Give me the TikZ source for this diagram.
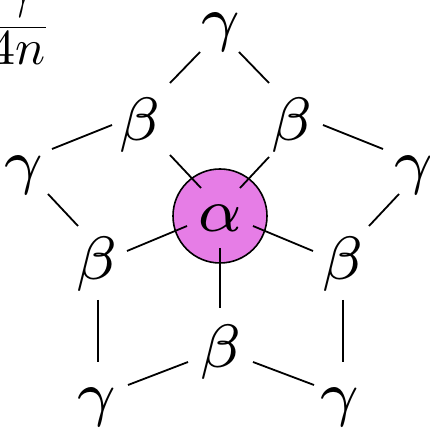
\documentclass[tikz,border=0pt]{standalone}
\definecolor{alphapink}{RGB}{230,125,230}
\newcommand{\scaledmath}[1]{\scalebox{8.75}{$\scriptstyle#1$}}
\newcommand{\fracmath}[1]{\scalebox{5}{$#1$}}
\tikzset{
  lbl/.style={inner sep=11pt, anchor=base, text height=44pt, text depth=12pt},
  albl/.style={inner sep=11pt, anchor=base},
  edge/.style={line width=1.8pt},
}
\begin{document}
\begin{tikzpicture}[x=1pt,y=1pt]
\useasboundingbox (0,0) rectangle (430,431);
\clip (0,0) rectangle (430,431);
\fill[alphapink] (220,215) circle (47);
\draw[line width=1.6pt] (220,215) circle (47);
\node[albl] (a) at (220,199) {\scaledmath{\alpha}};
\node[lbl] (gT) at (221,391.4) {\scaledmath{\gamma}};
\node[lbl] (bUL) at (140,290.4) {\scaledmath{\beta}};
\node[lbl] (bUR) at (291.5,290.4) {\scaledmath{\beta}};
\node[lbl] (gL) at (23.5,248.4) {\scaledmath{\gamma}};
\node[lbl] (gR) at (413.5,248.4) {\scaledmath{\gamma}};
\node[lbl] (bL) at (96.5,151.4) {\scaledmath{\beta}};
\node[lbl] (bR) at (342.5,151.4) {\scaledmath{\beta}};
\node[lbl] (bB) at (220.5,63.4) {\scaledmath{\beta}};
\node[lbl] (gBL) at (96.5,16.4) {\scaledmath{\gamma}};
\node[lbl] (gBR) at (340,16.4) {\scaledmath{\gamma}};
\node[inner sep=0pt, anchor=base east] (den) at (46,366) {\fracmath{4n}};
\node[inner sep=0pt, anchor=base] (num) at (19,423.7) {\fracmath{\gamma}};
\draw[line width=1.7pt] (den.west |- 0,403.5) -- (den.east |- 0,403.5);
% outer edges
\draw[edge] ([shift={(-21,-12.4)}]gT.base) -- ([shift={(30,57.6)}]bUL.base);
\draw[edge] ([shift={(18,-12.4)}]gT.base) -- ([shift={(-22.5,57.6)}]bUR.base);
\draw[edge] ([shift={(-28,15.6)}]bUL.base) -- ([shift={(28.5,33.6)}]gL.base);
\draw[edge] ([shift={(31.5,15.6)}]bUR.base) -- ([shift={(-30.5,33.6)}]gR.base);
\draw[edge] ([shift={(24.5,-11.4)}]gL.base) -- ([shift={(-18.5,53.6)}]bL.base);
\draw[edge] ([shift={(-14.5,-11.4)}]gR.base) -- ([shift={(26.5,53.6)}]bR.base);
\draw[edge] ([shift={(1.5,-20.4)}]bL.base) -- ([shift={(1.5,52.6)}]gBL.base);
\draw[edge] ([shift={(0.5,-20.4)}]bR.base) -- ([shift={(3,52.6)}]gBR.base);
\draw[edge] ([shift={(31.5,29.6)}]gBL.base) -- ([shift={(-32.5,5.6)}]bB.base);
\draw[edge] ([shift={(-26,29.6)}]gBR.base) -- ([shift={(32.5,5.6)}]bB.base);
% spokes
\draw[edge] ([shift={(-19,44)}]a.base) -- ([shift={(30,-14.4)}]bUL.base);
\draw[edge] ([shift={(20,44)}]a.base) -- ([shift={(-22.5,-16.4)}]bUR.base);
\draw[edge] ([shift={(-33,6)}]a.base) -- ([shift={(30.5,28.6)}]bL.base);
\draw[edge] ([shift={(33,6)}]a.base) -- ([shift={(-29.5,28.6)}]bR.base);
\draw[edge] ([shift={(0,-16)}]a.base) -- ([shift={(-0.5,59.6)}]bB.base);
\end{tikzpicture}
\end{document}
